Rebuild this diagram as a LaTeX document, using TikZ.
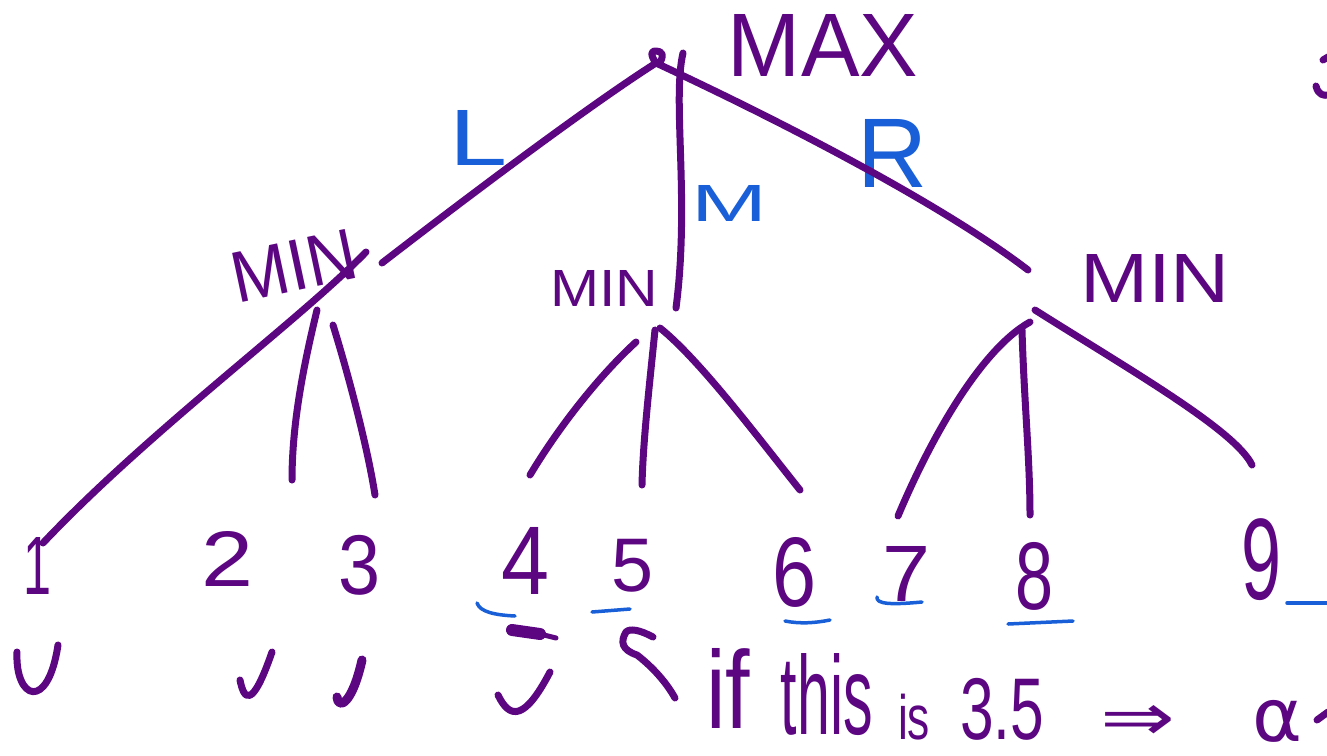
\documentclass[tikz,border=0pt]{standalone}
\usepackage{fontspec}
\setmainfont{Liberation Sans}
\newfontfamily\symfont{DejaVu Sans}
\definecolor{ink}{RGB}{92,6,130}
\definecolor{pen}{RGB}{25,95,215}
\newcommand{\fitbox}[3]{\resizebox*{#1pt}{#2pt}{#3}}
\begin{document}
\begin{tikzpicture}[x=1pt,y=-1pt,
  edge/.style={draw=ink,line width=7pt,line cap=round,line join=round},
  note/.style={draw=pen,line width=3.5pt,line cap=round,line join=round},
  lbl/.style={text=ink,inner sep=0pt,outer sep=0pt},
  blbl/.style={text=pen,inner sep=0pt,outer sep=0pt}]
\useasboundingbox (0,0) rectangle (1327,755);
\clip (0,0) rectangle (1327,755);

% ---- labels ----
\node[lbl] (max) at (823,45) {\fitbox{190}{62}{MAX}};
\node[lbl,rotate=12] (minL) at (294,266) {\fitbox{126}{50}{MIN}};
\node[lbl] (minM) at (604,288) {\fitbox{108}{36}{MIN}};
\node[lbl] (minR) at (1155,278) {\fitbox{150}{48}{MIN}};

\node[blbl] (lL) at (479,138) {\fitbox{58}{55}{L}};
\node[blbl] (lM) at (729,203) {\fitbox{76}{36}{M}};
\node[blbl] (lR) at (893,153) {\fitbox{70}{68}{R}};

% ---- leaves ----
\node[lbl] (n1) at (38,566) {\fitbox{28}{57}{1}};
\node[lbl] (n2) at (228,559) {\fitbox{52}{55}{2}};
\node[lbl] (n3) at (360,565) {\fitbox{42}{60}{3}};
\node[lbl] (n4) at (526,561) {\fitbox{48}{67}{4}};
\node[lbl] (n5) at (633,566) {\fitbox{42}{53}{5}};
\node[lbl] (n6) at (794,572) {\fitbox{44}{70}{6}};
\node[lbl] (n7) at (906,574) {\fitbox{48}{55}{7}};
\node[lbl] (n8) at (1034,576) {\fitbox{38}{68}{8}};
\node[lbl] (n9) at (1261,560) {\fitbox{40}{82}{9}};

% ---- bottom sentence ----
\node[lbl] (wif) at (728,688) {\fitbox{44}{80}{if}};
\node[lbl] (wthis) at (827,695) {\fitbox{92}{82}{this}};
\node[lbl] (wis) at (914,717) {\fitbox{32}{46}{is}};
\node[lbl] (wnum) at (1002,709) {\fitbox{84}{62}{3.5}};
\node[lbl] (wimp) at (1138,723) {\symfont\fitbox{75}{35}{⇒}};
\node[lbl] (walpha) at (1277,721) {\symfont\fitbox{50}{42}{α}};

% ---- tree coordinates ----
\coordinate (root) at (656,63);
\coordinate (rootM) at (683,53);
\coordinate (endL) at (382,263);
\coordinate (endM) at (676,308);
\coordinate (endR) at (1028,270);
\coordinate (a1) at (366,252);  \coordinate (t1) at (43,543);
\coordinate (a2) at (317,310);  \coordinate (t2) at (292,480);
\coordinate (a3) at (333,325);  \coordinate (t3) at (375,495);
\coordinate (b1) at (636,342);  \coordinate (t4) at (530,475);
\coordinate (b2) at (655,330);  \coordinate (t5) at (642,485);
\coordinate (b3) at (660,328);  \coordinate (t6) at (800,490);
\coordinate (c1) at (1030,322); \coordinate (t7) at (898,516);
\coordinate (c2) at (1022,330); \coordinate (t8) at (1030,515);
\coordinate (c3) at (1035,310); \coordinate (t9) at (1252,465);

% ---- root edges ----
\draw[edge] (endL) .. controls (470,195) and (590,105) .. (root);
\draw[edge] (root) .. controls (650,55) and (651,50) .. (656,51) .. controls (662,51) and (665,55) .. (659,64);
\draw[edge] (root) .. controls (800,130) and (950,210) .. (endR);
\draw[edge] (rootM) .. controls (672,100) and (690,200) .. (endM);

% ---- subtrees ----
\draw[edge] (a1) .. controls (300,320) and (150,430) .. (t1);
\draw[edge] (a2) .. controls (305,360) and (292,420) .. (t2);
\draw[edge] (a3) .. controls (350,380) and (368,450) .. (t3);
\draw[edge] (b1) .. controls (600,375) and (560,425) .. (t4);
\draw[edge] (b2) .. controls (650,380) and (643,440) .. (t5);
\draw[edge] (b3) .. controls (700,360) and (760,440) .. (t6);
\draw[edge] (c1) .. controls (980,350) and (930,440) .. (t7);
\draw[edge] (c2) .. controls (1024,400) and (1030,460) .. (t8);
\draw[edge] (c3) .. controls (1130,370) and (1235,430) .. (t9);

% ---- marks under leaves ----
\draw[edge] (17,652) .. controls (15,700) and (48,712) .. (58,645);
\draw[edge] (240,680) .. controls (244,700) and (252,710) .. (272,652);
\draw[edge,line width=9pt] (337,697) .. controls (338,710) and (352,705) .. (362,660);
\draw[edge] (498,695) .. controls (510,720) and (525,720) .. (550,672);
\draw[edge,line width=12pt] (512,630) -- (540,634);
\draw[edge,line width=5pt] (540,634) -- (556,638);
\draw[edge] (653,637) .. controls (640,630) and (630,628) .. (626,632) .. controls (620,642) and (622,650) .. (637,655) .. controls (650,665) and (665,680) .. (675,698);
\draw[edge] (1317,720) -- (1328,712);
\draw[edge] (1323,60) -- (1328,57);
\draw[edge] (1316,86) .. controls (1318,95) and (1324,96) .. (1328,95);

% ---- blue underlines ----
\draw[note] (477,603) .. controls (480,612) and (495,615) .. (515,616);
\draw[note] (592,612) -- (630,609);
\draw[note] (785,621) .. controls (800,624) and (815,623) .. (830,620);
\draw[note] (877,597) .. controls (876,604) and (890,605) .. (922,602);
\draw[note] (1008,624) -- (1073,621);
\draw[note] (1287,603) -- (1330,603);
\end{tikzpicture}
\end{document}
